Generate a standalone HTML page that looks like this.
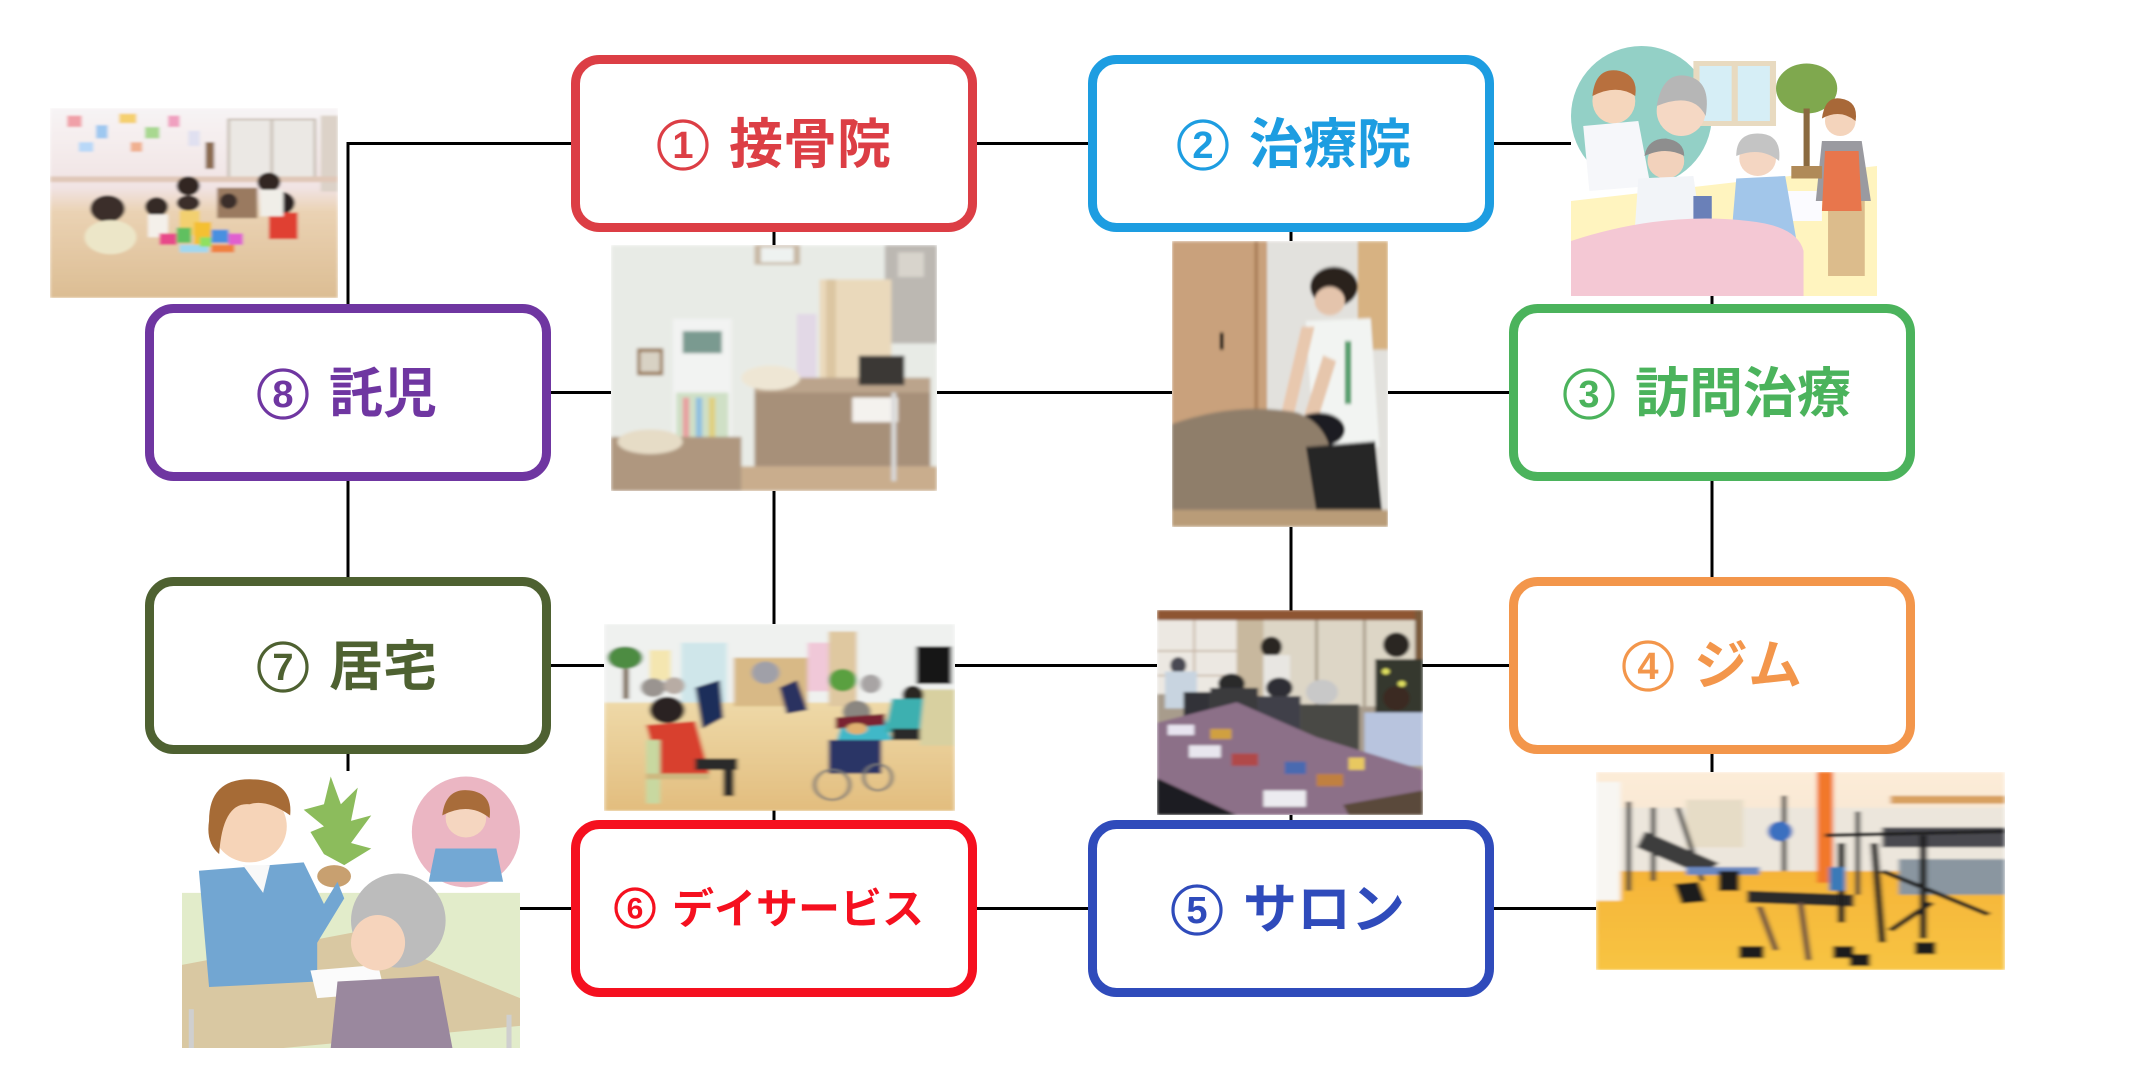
<!DOCTYPE html>
<html><head><meta charset="utf-8"><style>
html,body{margin:0;padding:0;background:#fff;}
body{width:2130px;height:1066px;overflow:hidden;position:relative;}
svg{display:block;}
.t{font-family:"Liberation Sans","Noto Sans CJK JP",sans-serif;font-weight:700;}
.d{font-family:"Liberation Sans",sans-serif;font-weight:700;}
</style></head><body>
<svg width="2130" height="1066" viewBox="0 0 2130 1066" xmlns="http://www.w3.org/2000/svg">
<defs>
<linearGradient id="kbg" x1="0" y1="0" x2="0" y2="1"><stop offset="0" stop-color="#f7f4f5"/><stop offset="0.42" stop-color="#f1e3e3"/><stop offset="0.55" stop-color="#ead2b3"/><stop offset="1" stop-color="#dcbd93"/></linearGradient>
<linearGradient id="gfl" x1="0" y1="0" x2="0" y2="1"><stop offset="0" stop-color="#f2a42c"/><stop offset="1" stop-color="#f8c443"/></linearGradient>
<linearGradient id="gce" x1="0" y1="0" x2="0" y2="1"><stop offset="0" stop-color="#fdecd8"/><stop offset="1" stop-color="#f6e6d2"/></linearGradient>
<linearGradient id="dfl" x1="0" y1="0" x2="0" y2="1"><stop offset="0" stop-color="#eed9a8"/><stop offset="1" stop-color="#e2bd7e"/></linearGradient>
<filter id="bl" x="-5%" y="-5%" width="110%" height="110%"><feGaussianBlur stdDeviation="0.6"/></filter>
</defs>

<!-- connector lines -->
<g stroke="#000" stroke-width="3" fill="none">
<path d="M571 143.5 H348 V304"/>
<path d="M977 143.5 H1088"/>
<path d="M1494 143.5 H1571"/>
<path d="M774 232 V245"/>
<path d="M774 491 V624"/>
<path d="M774 810 V820"/>
<path d="M1291 232 V241"/>
<path d="M1291 527 V611"/>
<path d="M1291 815 V820"/>
<path d="M1712 296 V304"/>
<path d="M1712 480 V577"/>
<path d="M1712 753 V772"/>
<path d="M348 480 V577"/>
<path d="M348 753 V771"/>
<path d="M549 392.5 H611"/>
<path d="M937 392.5 H1172"/>
<path d="M1388 392.5 H1509"/>
<path d="M549 665.5 H604"/>
<path d="M955 665.5 H1157"/>
<path d="M1422 665.5 H1509"/>
<path d="M520 908.5 H571"/>
<path d="M977 908.5 H1088"/>
<path d="M1494 908.5 H1596"/>
</g>

<!-- Kids photo -->
<svg x="50" y="108" width="288" height="190" viewBox="0 0 100 100" preserveAspectRatio="none">
<g filter="url(#bl)">
<rect width="100" height="100" fill="url(#kbg)"/>
<rect x="62" y="6" width="30" height="32" fill="#ebe8e4"/>
<rect x="62" y="6" width="30" height="32" fill="none" stroke="#c9bfb5" stroke-width="1"/>
<line x1="77" y1="6" x2="77" y2="38" stroke="#c9bfb5" stroke-width="1"/>
<rect x="94" y="4" width="6" height="40" fill="#dcd2c8"/>
<rect x="0" y="36" width="100" height="3" fill="#e0c8b8"/>
<rect x="6" y="4" width="5" height="6" fill="#f0a0a8"/><rect x="16" y="9" width="4" height="7" fill="#9ec8f0"/>
<rect x="24" y="3" width="6" height="5" fill="#f5d070"/><rect x="33" y="10" width="5" height="6" fill="#a8d890"/>
<rect x="41" y="4" width="4" height="6" fill="#f0a0c0"/><rect x="10" y="18" width="5" height="5" fill="#b8d8f8"/>
<rect x="28" y="18" width="4" height="5" fill="#f0b090"/><rect x="48" y="12" width="4" height="8" fill="#e0e0f0"/>
<rect x="54" y="18" width="3" height="14" fill="#8a6a50"/>
<rect x="58" y="42" width="14" height="16" fill="#9a7a60"/>
<ellipse cx="20" cy="53" rx="6" ry="7" fill="#3a2e2c"/>
<ellipse cx="21" cy="68" rx="9" ry="9" fill="#ece6c8"/>
<ellipse cx="37" cy="52" rx="4" ry="5" fill="#342a28"/>
<rect x="34" y="56" width="7" height="12" fill="#f4f0ea"/>
<ellipse cx="48" cy="41" rx="4" ry="5" fill="#302624"/>
<ellipse cx="48" cy="50" rx="4" ry="4" fill="#3a2e2c"/>
<rect x="45" y="54" width="7" height="13" fill="#f2d070"/>
<ellipse cx="62" cy="49" rx="3" ry="4" fill="#3a2e2c"/>
<ellipse cx="80" cy="50" rx="5" ry="6" fill="#2c2422"/>
<rect x="76" y="55" width="10" height="14" fill="#e04030"/>
<ellipse cx="76" cy="39" rx="4" ry="5" fill="#302624"/>
<rect x="73" y="43" width="8" height="14" fill="#f0eee8"/>
<rect x="38" y="66" width="6" height="6" fill="#e84a8a"/><rect x="44" y="63" width="5" height="8" fill="#60c060"/>
<rect x="50" y="60" width="6" height="12" fill="#f4c030"/><rect x="56" y="64" width="6" height="7" fill="#4a90e0"/>
<rect x="62" y="66" width="5" height="6" fill="#e060d0"/><rect x="45" y="72" width="10" height="4" fill="#a0d8f0"/>
<rect x="56" y="72" width="8" height="4" fill="#f08040"/><rect x="52" y="68" width="4" height="5" fill="#90e060"/>
</g>
</svg>

<!-- Clinic photo -->
<svg x="611" y="245" width="326" height="246" viewBox="0 0 100 100" preserveAspectRatio="none">
<g filter="url(#bl)">
<rect width="100" height="100" fill="#e8ebe6"/>
<rect x="44" y="0" width="14" height="8" fill="#c8b8a4"/>
<rect x="46" y="1" width="10" height="6" fill="#eef2f0"/>
<rect x="84" y="0" width="16" height="40" fill="#bcb8b2"/>
<rect x="88" y="3" width="8" height="10" fill="#d8d4cc"/>
<rect x="64" y="14" width="22" height="44" fill="#ead9bb"/>
<rect x="66" y="14" width="3" height="44" fill="#dcc6a2"/>
<rect x="8" y="42" width="8" height="11" fill="#9a7a5a"/>
<rect x="9" y="43.5" width="6" height="8" fill="#d8d2c4"/>
<rect x="19" y="30" width="18" height="58" fill="#f2f3f2"/>
<rect x="22" y="35" width="12" height="9" fill="#7a9a90"/>
<rect x="20" y="60" width="16" height="22" fill="#cfe0c6"/>
<rect x="22" y="62" width="2" height="22" fill="#e8a0a0"/><rect x="26" y="62" width="2" height="22" fill="#90c0e0"/><rect x="30" y="62" width="2" height="22" fill="#e0d080"/>
<rect x="57" y="28" width="6" height="40" fill="#e2d8e6"/>
<rect x="44" y="54" width="54" height="36" fill="#a79079"/>
<rect x="44" y="54" width="54" height="6" fill="#bba48c"/>
<ellipse cx="49" cy="54" rx="9" ry="5" fill="#eee6d4"/>
<rect x="76" y="45" width="14" height="12" fill="#3a3836"/>
<rect x="74" y="62" width="14" height="10" fill="#f4f2ee"/>
<rect x="0" y="78" width="40" height="22" fill="#af977f"/>
<ellipse cx="12" cy="80" rx="10" ry="5" fill="#e6dcc6"/>
<rect x="40" y="90" width="60" height="10" fill="#c9ad8d"/>
<rect x="86" y="60" width="1.5" height="36" fill="#d8d8d8"/>
</g>
</svg>

<!-- Nurse illustration -->
<svg x="1571" y="46" width="306" height="250" viewBox="0 0 100 100" preserveAspectRatio="none">
<rect width="100" height="100" fill="#fff"/>
<ellipse cx="23" cy="28" rx="23" ry="28" fill="#93d0c6"/>
<rect x="40" y="6" width="27" height="26" fill="#e8dac0"/>
<rect x="42" y="8" width="10.5" height="22" fill="#d6eef6"/><rect x="54.5" y="8" width="10.5" height="22" fill="#d6eef6"/>
<circle cx="77" cy="17" r="10" fill="#7fa84e"/>
<rect x="76" y="25" width="2" height="24" fill="#8a6a40"/>
<polygon points="0,62 100,48 100,100 0,100" fill="#fff4bf"/>
<rect x="84" y="52" width="12" height="40" fill="#dcbc8c"/>
<rect x="68" y="58" width="14" height="12" fill="#fbfbff"/>
<ellipse cx="14" cy="22" rx="7" ry="9" fill="#f5d6bc"/>
<path d="M7 20 Q8 8 16 10 Q22 12 21 20 Q15 15 7 20Z" fill="#b8703e"/>
<polygon points="4,32 22,30 26,56 6,58" fill="#f6f7fa"/>
<ellipse cx="36" cy="26" rx="8" ry="10" fill="#f5d8c4"/>
<path d="M28 24 Q30 10 38 12 Q46 14 44 28 Q40 18 28 24Z" fill="#b6b6b6"/>
<ellipse cx="31" cy="46" rx="6" ry="7" fill="#f2d2bc"/>
<path d="M24 44 Q25 37 31 37 Q37 38 37 44 Q31 40 24 44Z" fill="#8e8e8e"/>
<polygon points="22,53 40,52 44,86 20,88" fill="#f2f4f8"/>
<rect x="40" y="60" width="6" height="14" fill="#6a80b8"/>
<ellipse cx="61" cy="45" rx="6" ry="7" fill="#f4d6c2"/>
<path d="M54 44 Q54 35 61 35 Q69 35 68 46 Q62 40 54 44Z" fill="#c4c4c4"/>
<polygon points="54,53 70,52 74,80 52,82" fill="#a2c6ea"/>
<ellipse cx="88" cy="30" rx="5" ry="6" fill="#f4d4bc"/>
<path d="M82 29 Q83 20 88 21 Q94 22 93 30 Q88 25 82 29Z" fill="#a86838"/>
<polygon points="82,38 95,38 98,62 80,62" fill="#9a9aa0"/>
<polygon points="83,42 94,42 95,66 82,66" fill="#e8764c"/>
<rect x="72" y="48" width="10" height="5" fill="#b08a58"/>
<path d="M0 78 Q30 66 58 70 Q74 72 76 82 L76 100 L0 100Z" fill="#f4c8d4"/>
</svg>

<!-- Massage photo -->
<svg x="1172" y="241" width="216" height="286" viewBox="0 0 100 100" preserveAspectRatio="none">
<g filter="url(#bl)">
<rect width="100" height="100" fill="#e2e1dd"/>
<rect x="0" y="0" width="44" height="100" fill="#c9a17b"/>
<rect x="38" y="0" width="2" height="100" fill="#b08660"/>
<rect x="22" y="32" width="2" height="6" fill="#3a3028"/>
<rect x="86" y="0" width="14" height="38" fill="#d7b282"/>
<ellipse cx="75" cy="16" rx="11" ry="7" fill="#2a221e"/>
<ellipse cx="73" cy="21" rx="7" ry="5" fill="#e4c4ac"/>
<polygon points="62,28 92,27 96,72 66,74" fill="#f2f4f2"/>
<rect x="80" y="35" width="3" height="22" fill="#5aa070"/>
<polygon points="60,30 66,30 56,62 50,62" fill="#e8c8ae"/>
<polygon points="70,40 76,42 66,66 60,64" fill="#e6c6ac"/>
<ellipse cx="68" cy="66" rx="12" ry="6" fill="#1e1e22"/>
<path d="M0 64 Q30 56 58 60 Q72 64 74 76 L80 100 L0 100Z" fill="#8f7e6a"/>
<polygon points="62,72 94,70 98,100 68,100" fill="#252528"/>
<rect x="0" y="94" width="100" height="6" fill="#b99c78"/>
</g>
</svg>

<!-- Day service photo -->
<svg x="604" y="624" width="351" height="187" viewBox="0 0 100 100" preserveAspectRatio="none">
<g filter="url(#bl)">
<rect width="100" height="100" fill="#eff1ef"/>
<rect x="0" y="42" width="100" height="58" fill="url(#dfl)"/>
<rect x="22" y="10" width="13" height="32" fill="#cfe6ea"/>
<rect x="13" y="14" width="6" height="16" fill="#f4e6b0"/>
<rect x="37" y="18" width="21" height="26" fill="#d8b986"/>
<rect x="58" y="10" width="12" height="26" fill="#f0c8d8"/>
<rect x="64" y="4" width="8" height="40" fill="#dfc8a0"/>
<rect x="89" y="12" width="10" height="20" fill="#151515"/>
<rect x="90" y="35" width="10" height="30" fill="#d8d0a0"/>
<ellipse cx="6" cy="18" rx="5" ry="6" fill="#4e8c42"/>
<rect x="5.5" y="24" width="1.5" height="16" fill="#6a5030"/>
<ellipse cx="68" cy="30" rx="4" ry="6" fill="#5aa040"/>
<ellipse cx="14" cy="34" rx="3.5" ry="5" fill="#9a9490"/>
<ellipse cx="20" cy="33" rx="3" ry="4.5" fill="#b8aca4"/>
<polygon points="26,34 33,30 34,50 28,56" fill="#1f2d5a"/>
<ellipse cx="46" cy="26" rx="4" ry="6" fill="#a0a0a8"/>
<polygon points="50,34 55,30 58,46 52,48" fill="#2a3060"/>
<ellipse cx="76" cy="32" rx="3" ry="5" fill="#a8a4a4"/>
<ellipse cx="72" cy="47" rx="4" ry="6" fill="#8a8680"/>
<polygon points="68,52 80,50 82,62 66,64" fill="#40b8c8"/>
<polygon points="66,50 80,48 80,54 66,56" fill="#7a2030"/>
<rect x="64" y="62" width="15" height="18" fill="#2a3566"/>
<ellipse cx="65" cy="86" rx="5" ry="8" fill="none" stroke="#777" stroke-width="1"/>
<ellipse cx="78" cy="82" rx="4" ry="7" fill="none" stroke="#777" stroke-width="1"/>
<ellipse cx="88" cy="38" rx="3" ry="5" fill="#2a2624"/>
<polygon points="82,40 91,40 90,58 80,58" fill="#3cb0b0"/>
<rect x="82" y="56" width="8" height="6" fill="#2a2a2a"/>
<ellipse cx="18" cy="46" rx="5" ry="7" fill="#2a2220"/>
<polygon points="12,54 26,52 30,80 16,82" fill="#d8412d"/>
<rect x="26" y="72" width="12" height="6" fill="#2a2a2a"/>
<rect x="34" y="76" width="3" height="16" fill="#2a2a2a"/>
<rect x="12" y="62" width="4" height="34" fill="#c8d8a0"/>
<rect x="12" y="80" width="18" height="3" fill="#cdb880"/>
<ellipse cx="72" cy="56" rx="3" ry="3" fill="#e0b070"/>
</g>
</svg>

<!-- Consult illustration -->
<svg x="182" y="771" width="338" height="277" viewBox="0 0 100 100" preserveAspectRatio="none">
<rect width="100" height="100" fill="#fff"/>
<polygon points="0,44 100,44 100,100 0,100" fill="#e2ecca"/>
<polygon points="0,70 52,58 100,82 100,92 30,100 0,100" fill="#d9c8a2"/>
<rect x="2" y="86" width="1.5" height="14" fill="#cfcfcf"/>
<rect x="96" y="88" width="1.5" height="12" fill="#cfcfcf"/>
<ellipse cx="84" cy="22" rx="16" ry="20" fill="#ebb6c3"/>
<ellipse cx="84" cy="17" rx="6" ry="7" fill="#f5d6c0"/>
<path d="M77 16 Q78 6 85 7 Q92 8 91 17 Q85 11 77 16Z" fill="#a86c3a"/>
<polygon points="75,28 93,28 95,40 73,40" fill="#73a8d4"/>
<path d="M44 2 L47 12 L52 6 L50 18 L56 16 L50 26 L56 28 L48 34 L42 30 L38 22 L42 20 L36 14 L42 12Z" fill="#8cbc5c"/>
<ellipse cx="45" cy="38" rx="5" ry="4" fill="#c8a070"/>
<ellipse cx="20" cy="20" rx="11" ry="13" fill="#f6d4b8"/>
<path d="M8 18 Q8 3 20 3 Q33 3 32 16 Q25 10 20 12 Q12 11 11 30 Q7 26 8 18Z" fill="#a66b36"/>
<polygon points="5,36 36,33 42,48 46,40 48,46 40,62 40,76 8,78" fill="#72a6d2"/>
<polygon points="18,34 26,34 24,44" fill="#f8f8f8"/>
<polygon points="38,72 58,70 60,80 40,82" fill="#fbfbfb"/>
<ellipse cx="64" cy="54" rx="14" ry="17" fill="#bcbcbc"/>
<ellipse cx="58" cy="62" rx="8" ry="10" fill="#f6d4bc"/>
<polygon points="46,76 76,74 80,100 44,100" fill="#9a889e"/>
</svg>

<!-- Salon photo -->
<svg x="1157" y="610" width="266" height="205" viewBox="0 0 100 100" preserveAspectRatio="none">
<g filter="url(#bl)">
<rect width="100" height="100" fill="#a89c8c"/>
<rect x="0" y="0" width="100" height="5" fill="#8e5432"/>
<rect x="0" y="5" width="30" height="36" fill="#ece8e2"/>
<g stroke="#c8b8a8" stroke-width="0.8"><line x1="14" y1="5" x2="14" y2="41"/><line x1="0" y1="20" x2="30" y2="20"/><line x1="0" y1="32" x2="30" y2="32"/></g>
<rect x="30" y="5" width="10" height="40" fill="#c8b89e"/>
<rect x="40" y="5" width="58" height="42" fill="#ddd6c6"/>
<g stroke="#a09480" stroke-width="1"><line x1="60" y1="5" x2="60" y2="47"/><line x1="78" y1="5" x2="78" y2="47"/></g>
<rect x="97" y="0" width="3" height="60" fill="#7a5a3a"/>
<ellipse cx="8" cy="27" rx="3" ry="4" fill="#4a4a52"/>
<rect x="3" y="30" width="12" height="18" fill="#c8d4e0"/>
<ellipse cx="43" cy="18" rx="4" ry="5" fill="#2a2624"/>
<rect x="40" y="22" width="10" height="22" fill="#e8e6e2"/>
<ellipse cx="90" cy="17" rx="5" ry="6" fill="#2a2624"/>
<rect x="82" y="24" width="18" height="30" fill="#34382e"/>
<circle cx="86" cy="30" r="1.5" fill="#e0e060"/><circle cx="92" cy="36" r="1.5" fill="#e0e060"/><circle cx="88" cy="44" r="1.5" fill="#e0e060"/>
<ellipse cx="28" cy="36" rx="5" ry="5" fill="#2a2a2c"/>
<rect x="20" y="38" width="18" height="18" fill="#3a3a3e"/>
<ellipse cx="46" cy="38" rx="5" ry="5" fill="#2e2e34"/>
<rect x="38" y="42" width="16" height="20" fill="#404048"/>
<ellipse cx="62" cy="40" rx="6" ry="6" fill="#c8c8c8"/>
<rect x="54" y="46" width="22" height="24" fill="#4a4a44"/>
<ellipse cx="90" cy="43" rx="5" ry="6" fill="#3a2a24"/>
<rect x="78" y="50" width="22" height="26" fill="#b8c4de"/>
<rect x="10" y="40" width="10" height="12" fill="#303038"/>
<polygon points="0,55 30,45 60,62 100,78 100,100 30,100 0,82" fill="#8c7088"/>
<rect x="4" y="56" width="10" height="5" fill="#e8e4f0"/><rect x="12" y="66" width="12" height="6" fill="#e8e6ee"/>
<rect x="40" y="88" width="16" height="8" fill="#ecebf0"/><rect x="28" y="70" width="10" height="6" fill="#b04a4a"/>
<rect x="48" y="74" width="8" height="6" fill="#4a6ab0"/><rect x="60" y="80" width="10" height="6" fill="#c08040"/>
<rect x="20" y="58" width="8" height="5" fill="#d0a040"/><rect x="72" y="72" width="6" height="6" fill="#e8c860"/>
<polygon points="0,82 30,100 0,100" fill="#1e1e22"/>
<polygon points="70,95 100,88 100,100 72,100" fill="#5a4a3a"/>
</g>
</svg>

<!-- Gym photo -->
<svg x="1596" y="772" width="409" height="198" viewBox="0 0 100 100" preserveAspectRatio="none">
<g filter="url(#bl)">
<rect width="100" height="100" fill="url(#gfl)"/>
<rect x="0" y="0" width="100" height="30" fill="url(#gce)"/>
<rect x="0" y="18" width="100" height="32" fill="#ece6dc"/>
<rect x="22" y="14" width="14" height="24" fill="#e6dcc6"/>
<rect x="54" y="0" width="4" height="56" fill="#f2782a"/>
<rect x="72" y="12" width="28" height="4" fill="#d8a060"/>
<rect x="0" y="5" width="6" height="60" fill="#f8f6f2"/>
<g stroke="#3a3a3a" stroke-width="1.2" fill="none">
<line x1="8" y1="15" x2="8" y2="60"/><line x1="14" y1="18" x2="14" y2="55"/><line x1="20" y1="18" x2="26" y2="55"/>
<line x1="46" y1="12" x2="46" y2="50"/><line x1="64" y1="20" x2="64" y2="62"/>
</g>
<polygon points="12,30 30,46 26,52 10,38" fill="#3c3c3c"/>
<rect x="22" y="48" width="18" height="4" fill="#6a88c0"/>
<ellipse cx="45" cy="30" rx="3" ry="5" fill="#3a70c0"/>
<rect x="70" y="28" width="30" height="10" fill="#4a4a50"/>
<rect x="74" y="44" width="26" height="18" fill="#8a96a0"/>
<polygon points="37,60 63,62 63,68 37,66" fill="#2a2a2a"/>
<rect x="20" y="56" width="6" height="10" fill="#1e1e1e" transform="rotate(-10 23 61)"/>
<rect x="30" y="50" width="5" height="10" fill="#1e1e1e"/>
<line x1="50" y1="66" x2="52" y2="95" stroke="#6a5040" stroke-width="1.5"/>
<line x1="40" y1="68" x2="44" y2="90" stroke="#6a5040" stroke-width="1.5"/>
<rect x="35" y="88" width="6" height="6" fill="#1e1e1e"/><rect x="58" y="88" width="5" height="6" fill="#1e1e1e"/>
<rect x="62" y="92" width="5" height="6" fill="#1e1e1e"/><rect x="78" y="86" width="5" height="6" fill="#1e1e1e"/>
<g stroke="#202020" stroke-width="1.8" fill="none">
<line x1="60" y1="36" x2="60" y2="76"/><line x1="68" y1="36" x2="70" y2="86"/>
<line x1="80" y1="32" x2="80" y2="84"/><line x1="70" y1="50" x2="96" y2="72"/>
<line x1="72" y1="80" x2="82" y2="66"/><line x1="56" y1="32" x2="100" y2="30"/>
</g>
<rect x="57" y="48" width="4" height="12" fill="#3a7ab8"/>
</g>
</svg>

<!-- Boxes -->
<g fill="#fff" stroke-width="9">
<rect x="575.5" y="59.5" width="397" height="168" rx="24" stroke="#dc3e45"/>
<rect x="1092.5" y="59.5" width="397" height="168" rx="24" stroke="#1d9de1"/>
<rect x="1513.5" y="308.5" width="397" height="168" rx="24" stroke="#4bb35c"/>
<rect x="1513.5" y="581.5" width="397" height="168" rx="24" stroke="#f3964b"/>
<rect x="1092.5" y="824.5" width="397" height="168" rx="24" stroke="#2f4bbb"/>
<rect x="575.5" y="824.5" width="397" height="168" rx="24" stroke="#f5101f"/>
<rect x="149.5" y="581.5" width="397" height="168" rx="24" stroke="#4e6131"/>
<rect x="149.5" y="308.5" width="397" height="168" rx="24" stroke="#6f36a1"/>
</g>

<!-- circled digits (drawn as circle + digit) -->
<g fill="none" stroke-width="3.2">
<circle cx="683" cy="145" r="24" stroke="#dc3e45"/>
<circle cx="1203" cy="145" r="24" stroke="#1d9de1"/>
<circle cx="1589" cy="394" r="24" stroke="#4bb35c"/>
<circle cx="1648" cy="666" r="24" stroke="#f3964b"/>
<circle cx="1197" cy="910" r="24" stroke="#2f4bbb"/>
<circle cx="635" cy="908" r="19" stroke="#f5101f"/>
<circle cx="283" cy="667" r="24" stroke="#4e6131"/>
<circle cx="283" cy="394" r="24" stroke="#6f36a1"/>
</g>
<g class="d" text-anchor="middle" dominant-baseline="central" font-size="38">
<text x="683" y="146" fill="#dc3e45">1</text>
<text x="1203" y="146" fill="#1d9de1">2</text>
<text x="1589" y="395" fill="#4bb35c">3</text>
<text x="1648" y="667" fill="#f3964b">4</text>
<text x="1197" y="911" fill="#2f4bbb">5</text>
<text x="635" y="909" fill="#f5101f" font-size="30">6</text>
<text x="283" y="668" fill="#4e6131">7</text>
<text x="283" y="395" fill="#6f36a1">8</text>
</g>

<g class="t" text-anchor="start" dominant-baseline="central" font-size="54">
<text x="729" y="145" fill="#dc3e45">接骨院</text>
<text x="1249" y="145" fill="#1d9de1">治療院</text>
<text x="1635" y="394" fill="#4bb35c">訪問治療</text>
<text x="1694" y="666" fill="#f3964b">ジム</text>
<text x="1243" y="910" fill="#2f4bbb">サロン</text>
<text x="672" y="909" fill="#f5101f" font-size="42">デイサービス</text>
<text x="329" y="667" fill="#4e6131">居宅</text>
<text x="329" y="394" fill="#6f36a1">託児</text>
</g>
</svg>
</body></html>
